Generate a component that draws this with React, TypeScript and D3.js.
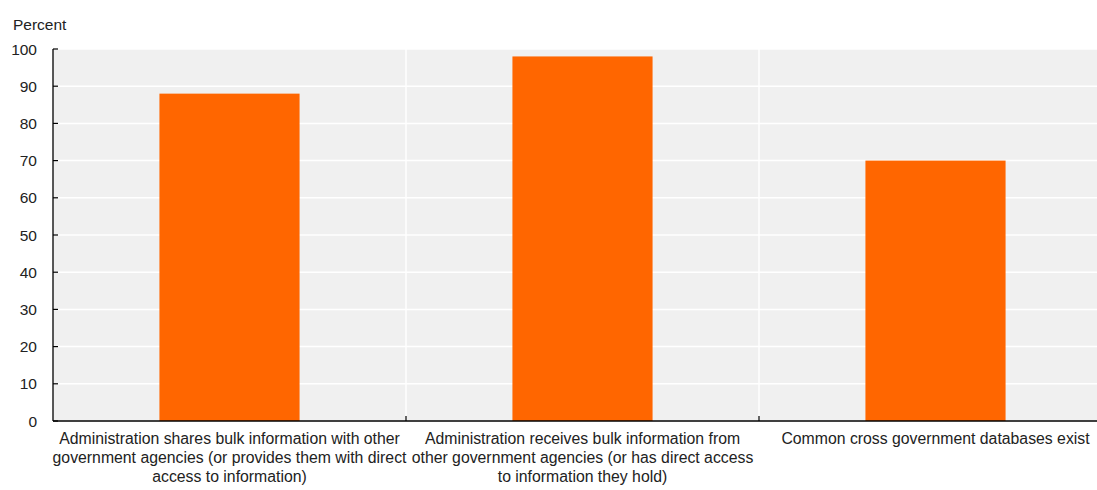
import React from "react";
import * as d3 from "d3";

const categories: string[][] = [
  ["Administration shares bulk information with other", "government agencies (or provides them with direct", "access to information)"],
  ["Administration receives bulk information from", "other government agencies (or has direct access", "to information they hold)"],
  ["Common cross government databases exist"],
];
const values: number[] = [88, 98, 70];
const yTicks: number[] = [0, 10, 20, 30, 40, 50, 60, 70, 80, 90, 100];

const W = 1097;
const H = 490;
const left = 53;
const right = 1112;
const top = 49;
const bottom = 421;

export default function App() {
  const ids = categories.map((_, i) => String(i));
  const x = d3.scaleBand<string>().domain(ids).range([left, right]).padding(0);
  const y = d3.scaleLinear().domain([0, 100]).range([bottom, top]);
  const bw = x.bandwidth() * 0.397;
  const font = "Liberation Sans, Arial, sans-serif";
  return (
    <svg width={W} height={H} style={{ position: "absolute", left: 0, top: 0 }} fontFamily={font}>
      <rect x={left} y={top} width={right - left} height={bottom - top} fill="#f0f0f0" />
      {yTicks.map((t) => (
        <line key={"g" + t} x1={left} x2={right} y1={y(t)} y2={y(t)} stroke="#ffffff" strokeWidth={1.5} />
      ))}
      {ids.slice(1).map((id) => (
        <line key={"v" + id} x1={x(id)!} x2={x(id)!} y1={top} y2={bottom} stroke="#ffffff" strokeWidth={1.5} />
      ))}
      {values.map((v, i) => (
        <rect
          key={"b" + i}
          x={x(ids[i])! + x.bandwidth() / 2 - bw / 2}
          y={y(v)}
          width={bw}
          height={y(0) - y(v)}
          fill="#ff6600"
        />
      ))}
      <line x1={left} x2={left} y1={top} y2={bottom} stroke="#000" strokeWidth={1.3} />
      <line x1={left} x2={right} y1={bottom} y2={bottom} stroke="#000" strokeWidth={1.5} />
      {yTicks.map((t) => (
        <g key={"t" + t}>
          <line x1={left} x2={left + 5} y1={y(t)} y2={y(t)} stroke="#000" strokeWidth={1.2} />
          <text x={37} y={y(t)} dy="0.36em" textAnchor="end" fontSize={15.5} fill="#222">
            {t}
          </text>
        </g>
      ))}
      {ids.slice(1).map((id) => (
        <line key={"xt" + id} x1={x(id)!} x2={x(id)!} y1={bottom} y2={bottom - 5} stroke="#000" strokeWidth={1.2} />
      ))}
      <text x={13} y={30} fontSize={15.5} fill="#222">Percent</text>
      {categories.map((lines, i) => (
        <text key={"c" + i} textAnchor="middle" fontSize={15.8} fill="#222">
          {lines.map((ln, j) => (
            <tspan key={j} x={x(ids[i])! + x.bandwidth() / 2} y={444 + j * 19}>
              {ln}
            </tspan>
          ))}
        </text>
      ))}
    </svg>
  );
}
